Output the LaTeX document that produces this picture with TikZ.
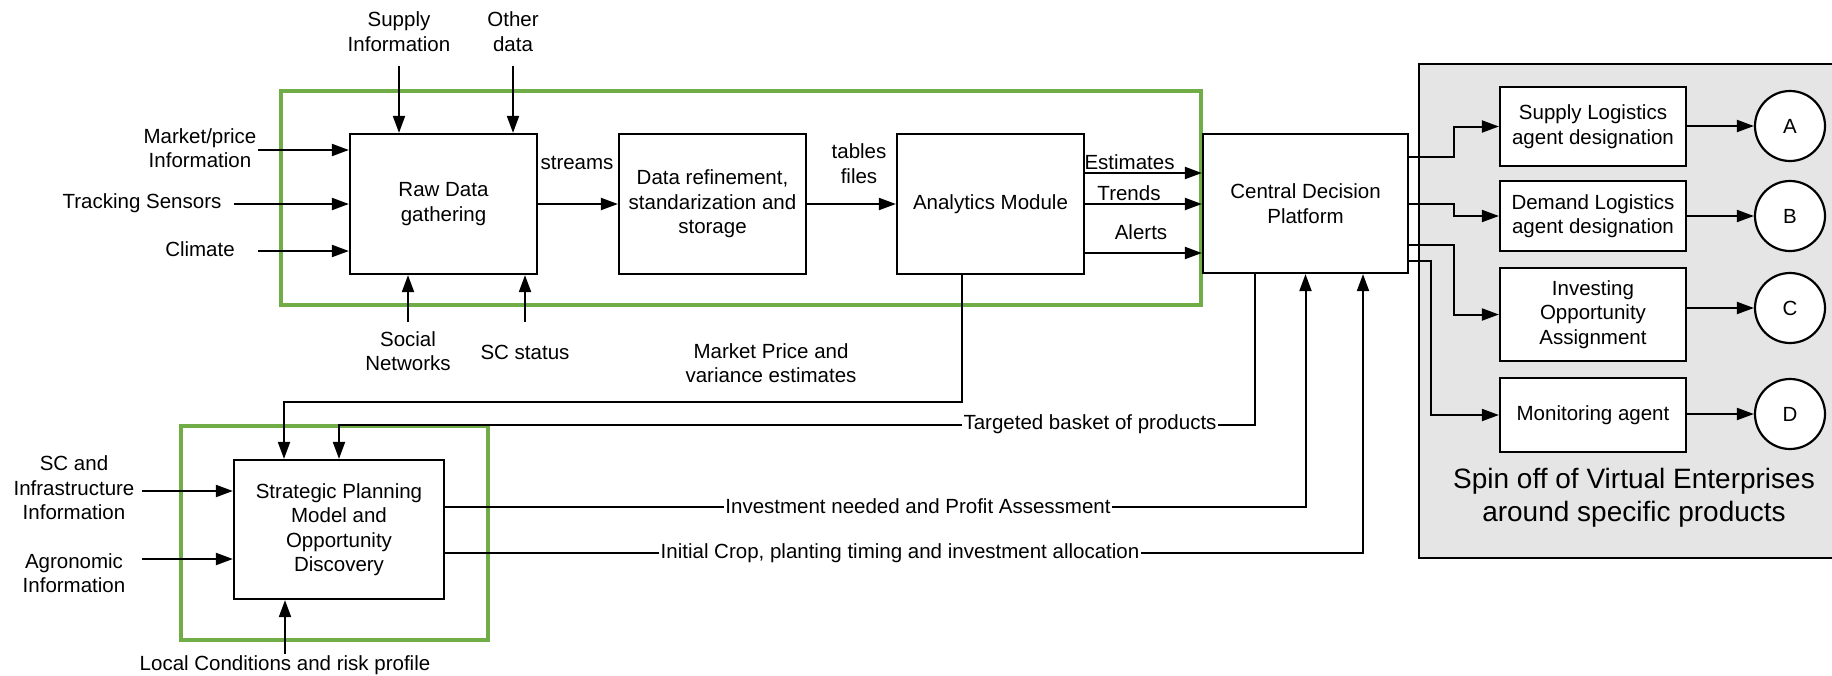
\documentclass[tikz,border=0pt]{standalone}
\usepackage{fontspec}
\setmainfont{Liberation Sans}
\usetikzlibrary{arrows.meta}
\definecolor{grn}{RGB}{112,173,71}
\begin{document}
\begin{tikzpicture}[x=1pt,y=-1pt,
  font=\fontsize{20.5}{24.5}\selectfont,
  line width=2pt,
  arr/.style={-{Triangle[length=17pt,width=12pt]}},
  blk/.style={draw,line width=2.2pt,fill=white,align=center,inner sep=2pt},
  lbl/.style={align=center,inner sep=1pt},
  onln/.style={fill=white,inner sep=1.5pt},
  grp/.style={draw=grn,line width=4.5pt},
  circ/.style={draw,circle,line width=2.2pt,fill=white,minimum size=70pt,inner sep=0pt}]
\useasboundingbox (0,0) rectangle (1832,675);

% group outlines
\draw[grp] (281,91) rectangle (1201,305);
\draw[grp] (181,426) rectangle (488,640);

% virtual enterprise panel
\draw[line width=2.2pt,fill=black!10] (1419,64) rectangle (1845,558);
\node[lbl,font=\fontsize{28}{33}\selectfont] (spin) at (1634,498)
  {Spin off of Virtual Enterprises\\around specific products};

% main blocks
\node[blk,minimum width=187pt,minimum height=140pt] (raw) at (443.5,204) {Raw Data\\gathering};
\node[blk,minimum width=187pt,minimum height=140pt] (ref) at (712.5,204) {Data refinement,\\standarization and\\storage};
\node[blk,minimum width=187pt,minimum height=140pt] (ana) at (990.5,204) {Analytics Module};
\node[blk,minimum width=205pt,minimum height=139pt] (cdp) at (1305.5,203.5) {Central Decision\\Platform};
\node[blk,minimum width=210pt,minimum height=139pt] (spm) at (339,529.5) {Strategic Planning\\Model and\\Opportunity\\Discovery};

% agent blocks
\node[blk,minimum width=186pt,minimum height=79pt] (sla) at (1593,126.5) {Supply Logistics\\agent designation};
\node[blk,minimum width=186pt,minimum height=70pt] (dla) at (1593,216) {Demand Logistics\\agent designation};
\node[blk,minimum width=186pt,minimum height=93pt] (ioa) at (1593,314.5) {Investing\\Opportunity\\Assignment};
\node[blk,minimum width=186pt,minimum height=74pt] (mon) at (1593,415) {Monitoring agent};

\node[circ] (A) at (1790,126) {A};
\node[circ] (B) at (1790,216) {B};
\node[circ] (C) at (1790,308) {C};
\node[circ] (D) at (1790,414) {D};

% input labels
\node[lbl] (sup) at (399,31.5) {Supply\\Information};
\node[lbl] (oth) at (513,31.5) {Other\\data};
\node[lbl] (mkt) at (200,148) {Market/price\\Information};
\node[lbl] (trk) at (142,203) {Tracking Sensors};
\node[lbl] (clm) at (200,249) {Climate};
\node[lbl] (soc) at (408,351) {Social\\Networks};
\node[lbl] (scs) at (525,352) {SC status};
\node[lbl] (sci) at (74,488) {SC and\\Infrastructure\\Information};
\node[lbl] (agr) at (74,573) {Agronomic\\Information};
\node[lbl] (loc) at (285,665) {Local Conditions and risk profile};

% free ends of the input arrows
\coordinate (supS) at (399,66);
\coordinate (othS) at (513,66);
\coordinate (mktS) at (258,150);
\coordinate (trkS) at (234,204);
\coordinate (clmS) at (258,251);
\coordinate (socS) at (408,322);
\coordinate (scsS) at (525,322);
\coordinate (sciS) at (142,491);
\coordinate (agrS) at (142,559);
\coordinate (locS) at (285,654);

\draw[arr] (supS) -- (supS |- raw.north);
\draw[arr] (othS) -- (othS |- raw.north);
\draw[arr] (mktS) -- (mktS -| raw.west);
\draw[arr] (trkS) -- (trkS -| raw.west);
\draw[arr] (clmS) -- (clmS -| raw.west);
\draw[arr] (socS) -- (socS |- raw.south);
\draw[arr] (scsS) -- (scsS |- raw.south);
\draw[arr] (sciS) -- (sciS -| spm.west);
\draw[arr] (agrS) -- (agrS -| spm.west);
\draw[arr] (locS) -- (locS |- spm.south);

% data pipeline
\draw[arr] (raw) -- (ref);
\draw[arr] (ref) -- (ana);
\node[lbl] (streams) at (577,163) {streams};
\node[lbl] (tables) at (859,163.5) {tables\\files};

\draw[arr] (ana.east |- 0,173) -- (cdp.west |- 0,173);
\draw[arr] (ana.east |- 0,204) -- (cdp.west |- 0,204);
\draw[arr] (ana.east |- 0,253) -- (cdp.west |- 0,253);
\node[lbl] (est) at (1129.5,162) {Estimates};
\node[lbl] (trd) at (1129,193) {Trends};
\node[lbl] (alr) at (1141,232) {Alerts};

% feedback into the strategic planning model
\coordinate (mpb) at (284,402);
\draw[arr] ([xshift=-28.5pt]ana.south) |- (mpb) -- (mpb |- spm.north);
\node[lbl] (mpv) at (771,363) {Market Price and\\variance estimates};

\draw[arr] ([xshift=-50.5pt]cdp.south) |- (spm.north |- 0,425) -- (spm.north);
\node[onln] (tbp) at (1090,424) {Targeted basket of products};

\draw[arr] (spm.east |- 0,507) -| (cdp.south);
\node[onln] (ina) at (918,506) {Investment needed and Profit Assessment};

\draw[arr] (spm.east |- 0,553) -| ([xshift=57.5pt]cdp.south);
\node[onln] (icp) at (900,553) {Initial Crop, planting timing and investment allocation};

% central platform to agents
\draw[arr] (cdp.east |- 0,157) -- (1454,157) |- (sla.west);
\draw[arr] (cdp.east |- 0,204) -- (1454,204) |- (dla.west);
\draw[arr] (cdp.east |- 0,245) -- (1454,245) |- (ioa.west);
\draw[arr] (cdp.east |- 0,261) -- (1431,261) |- (mon.west);

\draw[arr] (sla.east |- A.west) -- (A.west);
\draw[arr] (dla.east |- B.west) -- (B.west);
\draw[arr] (ioa.east |- C.west) -- (C.west);
\draw[arr] (mon.east |- D.west) -- (D.west);
\end{tikzpicture}
\end{document}
